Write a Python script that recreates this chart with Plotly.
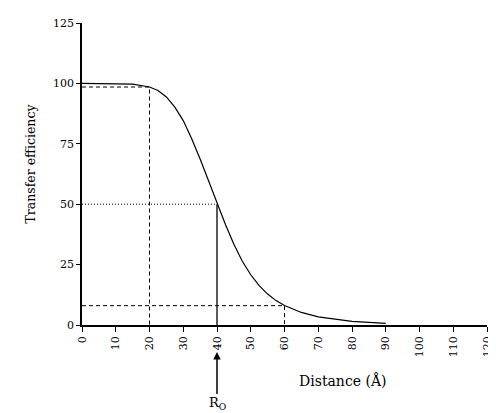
import plotly.graph_objects as go

# Data
distance = [0, 5, 10, 15, 20, 22.5, 25, 27.5, 30, 32.5, 35, 37.5, 40, 42.5, 45,
            47.5, 50, 52.5, 55, 57.5, 60, 65, 70, 75, 80, 85, 90]
efficiency = [100, 100, 100, 99.7, 98.5, 97.1, 94.4, 90.2, 84.6, 77.1, 68.7, 59.6, 50,
              41.6, 33.4, 26.4, 20.8, 16.3, 12.8, 10.1, 8.1, 5.2, 3.4, 2.3, 1.5, 1.1, 0.7]

# Guide lines (distance, efficiency)
guide_high_x = [0, 20, 20]
guide_high_y = [98.5, 98.5, 0]
guide_mid_x = [0, 40]
guide_mid_y = [50, 50]
guide_r0_x = [40, 40]
guide_r0_y = [0, 50]
guide_low_x = [0, 60, 60]
guide_low_y = [8, 8, 0]

x_ticks = [0, 10, 20, 30, 40, 50, 60, 70, 80, 90, 100, 110, 120]
y_ticks = [0, 25, 50, 75, 100, 125]
r0_value = 40

FONT = "DejaVu Serif"
OFF = 8  # page body margin
W, H = 496, 413
PW, PH = 405, 302
L, T = 82 - OFF, 23 - OFF
R, B = W - L - PW, H - T - PH


def px_x(px):
    return (px - OFF - L) / PW


def px_y(py):
    return (T + PH - (py - OFF)) / PH


fig = go.Figure()
fig.add_trace(go.Scatter(x=guide_high_x, y=guide_high_y, mode="lines",
                         line=dict(color="black", width=1, dash="4px,3px")))
fig.add_trace(go.Scatter(x=guide_mid_x, y=guide_mid_y, mode="lines",
                         line=dict(color="black", width=1, dash="1px,2px")))
fig.add_trace(go.Scatter(x=guide_r0_x, y=guide_r0_y, mode="lines",
                         line=dict(color="black", width=1.3)))
fig.add_trace(go.Scatter(x=guide_low_x, y=guide_low_y, mode="lines",
                         line=dict(color="black", width=1, dash="4px,3px")))
fig.add_trace(go.Scatter(x=distance, y=efficiency, mode="lines",
                         line=dict(color="black", width=1.2)))

fig.update_layout(
    width=W, height=H,
    margin=dict(l=L, r=R, t=T, b=B),
    paper_bgcolor="white", plot_bgcolor="white",
    showlegend=False,
    font=dict(family=FONT, size=11, color="black"),
    xaxis=dict(range=[0, 120], tickvals=x_ticks, ticktext=[str(v) for v in x_ticks],
               tickangle=-90, ticks="outside", ticklen=5, tickwidth=1, tickcolor="black",
               showline=True, linecolor="black", linewidth=1.5, showgrid=False,
               zeroline=False, automargin=False, tickfont=dict(family=FONT, size=11)),
    yaxis=dict(range=[0, 125], tickvals=y_ticks, ticktext=[str(v) for v in y_ticks],
               ticks="outside", ticklen=4, tickwidth=1, tickcolor="black",
               showline=True, linecolor="black", linewidth=1.5, showgrid=False,
               zeroline=False, automargin=False, tickfont=dict(family=FONT, size=11)),
)

fig.add_annotation(x=r0_value, y=px_y(352), xref="x", yref="paper",
                   text="R<sub>O</sub>", showarrow=True, arrowhead=2, arrowsize=1,
                   arrowwidth=1.5, arrowcolor="black", ax=0, ay=52,
                   font=dict(family=FONT, size=13))
fig.add_annotation(x=px_x(343), y=px_y(380), xref="paper", yref="paper",
                   text="Distance (Å)", showarrow=False, yanchor="middle",
                   font=dict(family=FONT, size=14))
fig.add_annotation(x=px_x(20), y=px_y(164), xref="paper", yref="paper",
                   text="Transfer efficiency", showarrow=False, textangle=-90,
                   font=dict(family=FONT, size=12.5))

fig.write_html("out.html")
